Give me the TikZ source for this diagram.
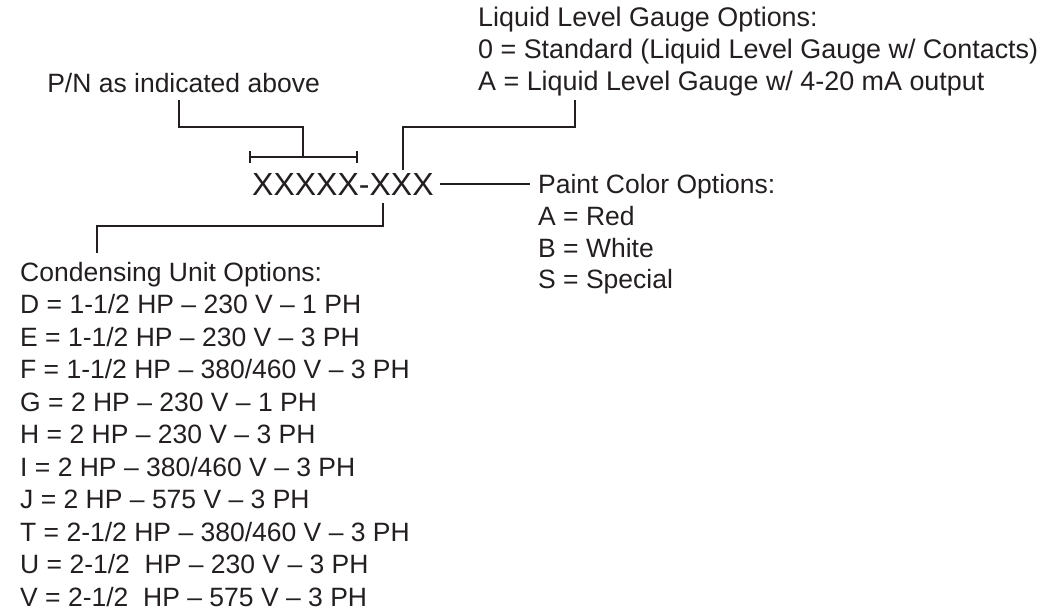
\documentclass[tikz,border=0pt]{standalone}
\usepackage{fontspec}
\setmainfont{Liberation Sans}
\definecolor{ink}{HTML}{231F20}
\begin{document}
\begin{tikzpicture}[x=1pt,y=-1pt,
  lbl/.style={anchor=base west,inner sep=0pt,font=\fontsize{26.5}{32}\selectfont,text=ink},
  lblw/.style={lbl,font=\fontsize{26.9}{32}\selectfont},
  pnum/.style={anchor=base west,inner sep=0pt,font=\fontsize{32}{32}\selectfont,text=ink},
  conn/.style={draw=ink,line width=2.6pt,line cap=butt,line join=miter},
  tick/.style={draw=ink,line width=2.2pt}
]
\useasboundingbox (0,0) rectangle (1060,613);

% Liquid level gauge block
\node[lblw] (llg)  at (478,27) {Liquid Level Gauge Options:};
\node[lblw] (llg0) at (478,58) {0 = Standard (Liquid Level Gauge w/ Contacts)};
\node[lblw] (llgA) at (478,90) {A = Liquid Level Gauge w/ 4-20 mA output};

% P/N label
\node[lbl,anchor=base east] (pn) at (320,92) {P/N as indicated above};

% part number
\node[pnum] (part) at (252,195) {XXXXX-XXX};

% Paint colour block
\node[lbl] (pc)  at (538,193) {Paint Color Options:};
\node[lbl] (pcA) at (538,225) {A = Red};
\node[lbl] (pcB) at (538,257) {B = White};
\node[lbl] (pcS) at (538,288) {S = Special};

% Condensing unit block
\node[lbl] (cu)  at (20,281)   {Condensing Unit Options:};
\node[lbl] (cuD) at (20,313.5) {D = 1-1/2 HP – 230 V – 1 PH};
\node[lbl] (cuE) at (20,346)   {E = 1-1/2 HP – 230 V – 3 PH};
\node[lbl] (cuF) at (20,378.5) {F = 1-1/2 HP – 380/460 V – 3 PH};
\node[lbl] (cuG) at (20,411)   {G = 2 HP – 230 V – 1 PH};
\node[lbl] (cuH) at (20,443.5) {H = 2 HP – 230 V – 3 PH};
\node[lbl] (cuI) at (20,476)   {I = 2 HP – 380/460 V – 3 PH};
\node[lbl] (cuJ) at (20,508.5) {J = 2 HP – 575 V – 3 PH};
\node[lbl] (cuT) at (20,541)   {T = 2-1/2 HP – 380/460 V – 3 PH};
\node[lbl] (cuU) at (20,573.5) {U = 2-1/2\ \ HP – 230 V – 3 PH};
\node[lbl] (cuV) at (20,606)   {V = 2-1/2\ \ HP – 575 V – 3 PH};

% connector coordinates
\coordinate (pnTop) at (179,100);
\coordinate (pnMid) at (303,127);
\coordinate (brL) at (250,157);
\coordinate (brR) at (357,157);
\coordinate (brM) at (303,157);
\coordinate (gBot) at (403,170);
\coordinate (gTop) at (575,100);
\coordinate (gRow) at (403,127);
\coordinate (pL) at (440,184);
\coordinate (pR) at (530,184);
\coordinate (cTop) at (383,203);
\coordinate (cRow) at (383,226);
\coordinate (cEnd) at (97,253);

% P/N bracket
\draw[conn] (pnTop) |- (pnMid) -- (brM);
\draw[tick] (brL) -- (brR);
\draw[tick] ([yshift=-6pt]brL) -- ([yshift=6pt]brL);
\draw[tick] ([yshift=-6pt]brR) -- ([yshift=6pt]brR);

% gauge connector
\draw[conn] (gBot) -- (gRow) -| (gTop);

% paint connector
\draw[conn] (pL) -- (pR);

% condensing connector
\draw[conn] (cTop) -- (cRow) -| (cEnd);
\end{tikzpicture}
\end{document}
